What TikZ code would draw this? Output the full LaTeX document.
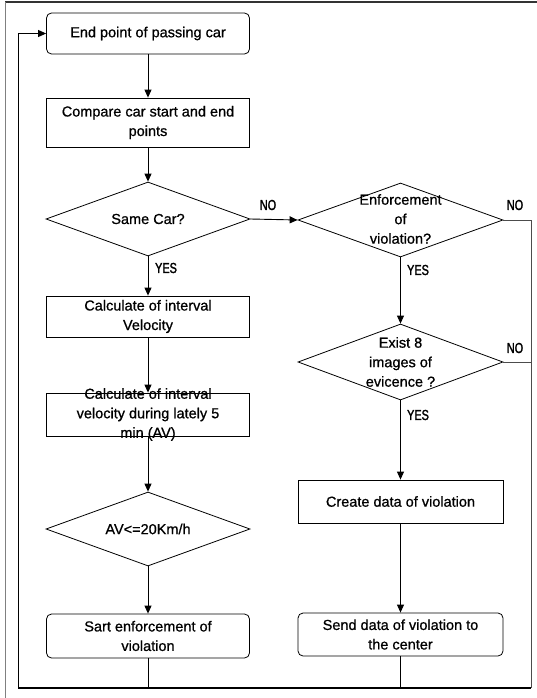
\documentclass[tikz,border=0pt]{standalone}
\usepackage{fontspec}
\setmainfont{Liberation Sans}[FakeBold=0.8]
\newfontfamily\narrowfont{Liberation Sans}[FakeStretch=0.75, FakeBold=1.8]
\usetikzlibrary{shapes.geometric, arrows.meta}

\begin{document}
\begin{tikzpicture}[
  x=1pt, y=-1pt,
  >={Triangle[length=8pt, width=7pt]},
  every node/.style={align=center, font=\fontsize{14.5}{19.5}\selectfont},
  line width=0.9pt,
  term/.style={rectangle, rounded corners=5pt, draw, line width=0.8pt,
               minimum width=203pt, inner sep=1pt},
  proc/.style={rectangle, draw, line width=0.8pt, minimum width=203pt, inner sep=1pt},
  dec/.style={diamond, aspect=2.75, draw, line width=0.8pt, inner sep=0pt,
              minimum width=204pt, minimum height=74pt},
  txt/.style={inner sep=0pt},
  lab/.style={font=\narrowfont\fontsize{14.5}{16}\selectfont, inner sep=0pt},
]
\useasboundingbox (0,0) rectangle (537,698);

% ---------- frame ----------
\draw[line width=1.6pt, black!80] (5,2) -- (537,2);
\draw[line width=0.8pt, black!50] (5,2) -- (5,698);

% ---------- left column ----------
\node[term, minimum height=41pt] (start) at (148,33.5) {End point of passing car};
\node[proc, minimum height=49pt] (cmp) at (148,122.5) {Compare car start and end\\points};
\node[dec] (same) at (148,219) {Same Car?};
\node[proc, minimum height=41pt] (vel) at (148,316.5) {Calculate of interval\\Velocity};
\node[proc, minimum height=43pt] (avg) at (148,414.5) {};
\node[txt] (avgt) at (avg) {Calculate of interval\\velocity during lately 5\\min (AV)};
\node[dec] (lim) at (148,529) {AV<=20Km/h};
\node[term, minimum height=44pt] (sart) at (148,636) {Sart enforcement of\\violation};

% ---------- right column ----------
\node[dec, minimum width=205pt] (enf) at (400.5,220) {};
\node[txt] (enft) at (400.5,219) {Enforcement\\of\\violation?};
\node[dec, minimum width=205pt, minimum height=76pt] (img) at (400.5,362) {};
\node[txt] (imgt) at (400.5,362) {Exist 8\\images of\\evicence ?};
\node[proc, minimum width=205pt, minimum height=43pt] (crt) at (400.5,501.5) {Create data of violation};
\node[term, minimum width=205pt, minimum height=43pt] (send) at (400.5,634.5) {Send data of violation to\\the center};

% ---------- labels ----------
\node[lab] (no1) at (268,205) {NO};
\node[lab] (yes1) at (166,268) {YES};
\node[lab] (no2) at (515,205) {NO};
\node[lab] (yes2) at (418,270) {YES};
\node[lab] (no3) at (515,348) {NO};
\node[lab] (yes3) at (418,415) {YES};

% ---------- arrows ----------
\draw[->] (start) -- (cmp);
\draw[->] (cmp) -- (same);
\draw[->] (same) -- (vel);
\draw[->] (vel) -- (avg);
\draw[->] (avg) -- (lim);
\draw[->] (lim) -- (sart);
\draw[->] (same.east) -- (enf.west);
\draw[->] (enf) -- (img);
\draw[->] (img) -- (crt);
\draw[->] (crt) -- (send);

% ---------- loop back to start ----------
\coordinate (bl) at (18,688);
\coordinate (br) at (531,688);
\coordinate (tl) at (18,33.5);
\draw (sart.south) -- (sart.south |- bl);
\draw (send.south) -- (send.south |- bl);
\draw[black!70] (enf.east) -- (br |- enf.east) -- (br);
\draw[black!70] (img.east) -- (br |- img.east);
\draw[line width=2.2pt] (bl) -- (br);
\draw[->] (bl) -- (tl) -- (start.west);

\end{tikzpicture}
\end{document}
